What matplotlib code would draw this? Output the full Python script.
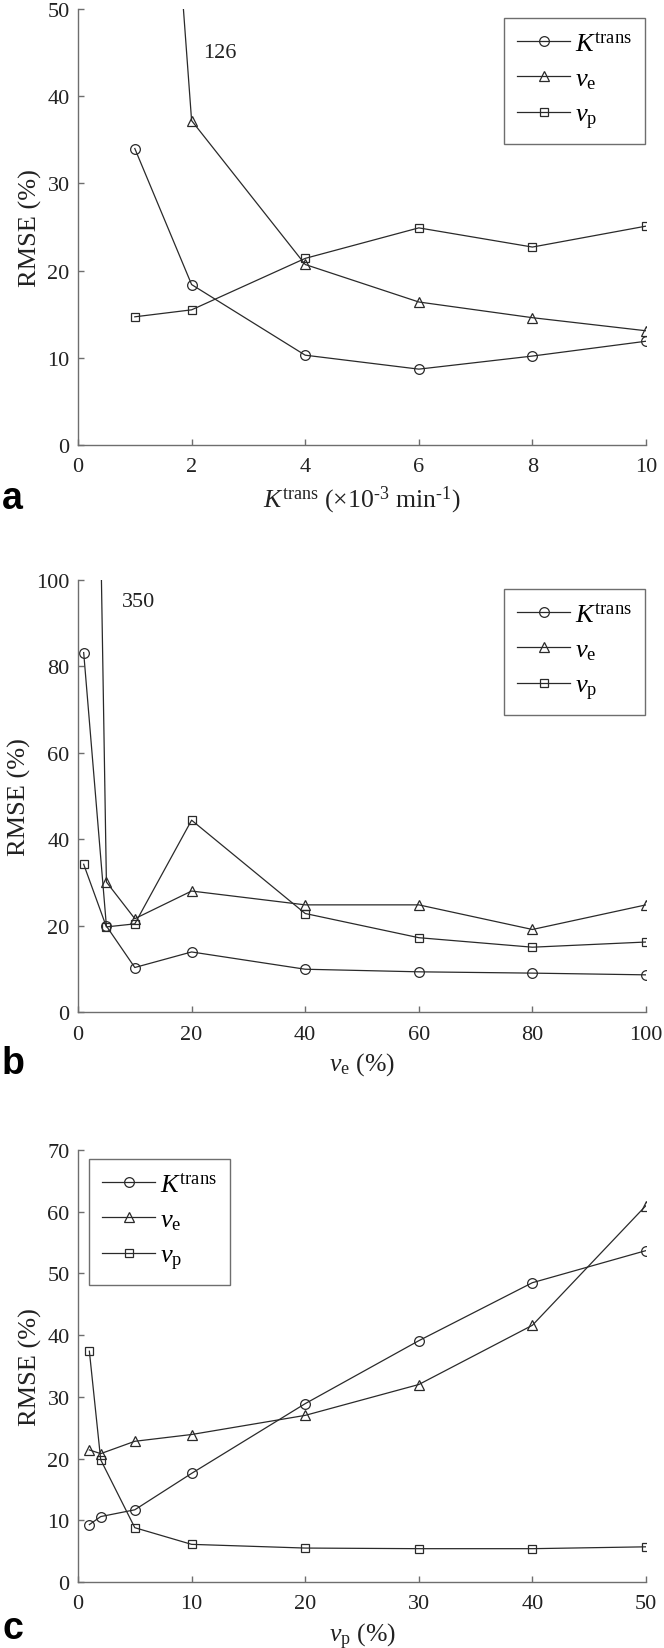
import matplotlib
matplotlib.use("Agg")
import matplotlib.pyplot as plt
from matplotlib.lines import Line2D

plt.rcParams['font.family'] = ['Liberation Serif', 'DejaVu Serif']
plt.rcParams['mathtext.fontset'] = 'custom'
plt.rcParams['mathtext.rm'] = 'Liberation Serif'
plt.rcParams['mathtext.it'] = 'Liberation Serif:italic'
plt.rcParams['mathtext.bf'] = 'Liberation Serif:bold'

# ---------------- data ----------------
# Panel a: varying Ktrans
xa = [1, 2, 4, 6, 8, 10]
a_ktrans = [34.0, 18.4, 10.3, 8.7, 10.2, 11.9]
a_ve = [126.0, 37.2, 20.7, 16.4, 14.6, 13.1]
a_vp = [14.7, 15.5, 21.4, 24.9, 22.7, 25.1]

# Panel b: varying ve
xb = [1, 5, 10, 20, 40, 60, 80, 100]
b_ktrans = [83.2, 19.9, 10.3, 13.9, 9.9, 9.3, 9.0, 8.6]
b_ve = [350.0, 30.1, 21.6, 28.0, 24.8, 24.8, 19.1, 24.8]
b_vp = [34.2, 19.7, 20.4, 44.4, 22.8, 17.2, 15.0, 16.2]

# Panel c: varying vp
xc = [1, 2, 5, 10, 20, 30, 40, 50]
c_ktrans = [9.3, 10.6, 11.7, 17.6, 28.9, 39.1, 48.5, 53.7]
c_ve = [21.4, 20.8, 22.8, 23.9, 27.0, 32.0, 41.6, 61.0]
c_vp = [37.4, 19.8, 8.8, 6.1, 5.5, 5.4, 5.4, 5.7]

series_labels = [r'$K^{\rm trans}$', r'$v_{\rm e}$', r'$v_{\rm p}$']
markers = ['o', '^', 's']
msizes = [7, 7, 5.5]

xticks_a = [0, 2, 4, 6, 8, 10]
yticks_a = [0, 10, 20, 30, 40, 50]
xticks_b = [0, 20, 40, 60, 80, 100]
yticks_b = [0, 20, 40, 60, 80, 100]
xticks_c = [0, 10, 20, 30, 40, 50]
yticks_c = [0, 10, 20, 30, 40, 50, 60, 70]

W, H = 664, 1649
fig = plt.figure(figsize=(W / 100, H / 100), dpi=100)

LINE = '#2a2a2a'
SPINE = '#6e6e6e'
FS_TICK = 16
FS_LAB = 18.5
FS_LEG = 19


def px_axes(left, top, right, bottom):
    return fig.add_axes([left / W, 1 - bottom / H, (right - left) / W, (bottom - top) / H])


def style(ax, xlim, ylim, xt, yt, xlabel):
    ax.set_xlim(*xlim)
    ax.set_ylim(*ylim)
    ax.set_xticks(xt)
    ax.set_yticks(yt)
    for s in ['top', 'right']:
        ax.spines[s].set_visible(False)
    for s in ['left', 'bottom']:
        ax.spines[s].set_color(SPINE)
        ax.spines[s].set_linewidth(1.0)
    ax.tick_params(direction='in', length=4, width=1.0, color=SPINE,
                   labelsize=FS_TICK, labelcolor='#222222')
    ax.tick_params(axis='x', pad=9)
    ax.tick_params(axis='y', pad=6)
    ax.set_ylabel('RMSE (%)', fontsize=FS_LAB + 0.5, color='#222222', labelpad=4)
    ax.set_xlabel(xlabel, fontsize=FS_LAB, color='#222222', labelpad=5)


def draw(ax, x, ys):
    for y, m, ms, lab in zip(ys, markers, msizes, series_labels):
        ax.plot(x, y, color=LINE, lw=0.9, marker=m, ms=ms, mfc='none',
                mec=LINE, mew=0.9, label=lab, clip_on=True)


def legend(ax, left, top):
    handles = [Line2D([], [], color=LINE, lw=0.9, marker=m, ms=ms, mfc='none', mec=LINE, mew=0.9)
               for m, ms in zip(markers, msizes)]
    leg = fig.legend(handles, series_labels, loc='upper left',
                     bbox_to_anchor=(left / W, 1 - top / H), bbox_transform=fig.transFigure,
                     fontsize=FS_LEG, frameon=True, fancybox=False, framealpha=1,
                     edgecolor=SPINE, handlelength=2.0, handletextpad=0.2,
                     labelspacing=0.45, borderpad=0.5, borderaxespad=0)
    leg.get_frame().set_linewidth(1.0)
    return leg


# Panel a
axa = px_axes(78, 10, 646, 446)
draw(axa, xa, [a_ktrans, a_ve, a_vp])
style(axa, (0, 10), (0, 50), xticks_a, yticks_a,
      r'$K^{\rm trans}$ (×10$^{\text{-3}}$ min$^{\text{-1}}$)')
axa.text(2.5, 45, '126', fontsize=FS_TICK, ha='center', va='center', color='#222222')
legend(axa, 504, 19)

# Panel b
axb = px_axes(78, 581, 646, 1013)
draw(axb, xb, [b_ktrans, b_ve, b_vp])
style(axb, (0, 100), (0, 100), xticks_b, yticks_b, r'$v_{\rm e}$ (%)')
axb.text(10.7, 95, '350', fontsize=FS_TICK, ha='center', va='center', color='#222222')
legend(axb, 504, 590)

# Panel c
axc = px_axes(78, 1151, 646, 1583)
draw(axc, xc, [c_ktrans, c_ve, c_vp])
style(axc, (0, 50), (0, 70), xticks_c, yticks_c, r'$v_{\rm p}$ (%)')
legend(axc, 89, 1160)

# Panel letters (baseline placement)
for lab, ypx in [('a', 509), ('b', 1074), ('c', 1639)]:
    fig.text(2 / W, 1 - ypx / H, lab, fontsize=27, fontweight='bold',
             family='Liberation Sans', ha='left', va='baseline', color='black')

fig.savefig('out.png', dpi=100)
